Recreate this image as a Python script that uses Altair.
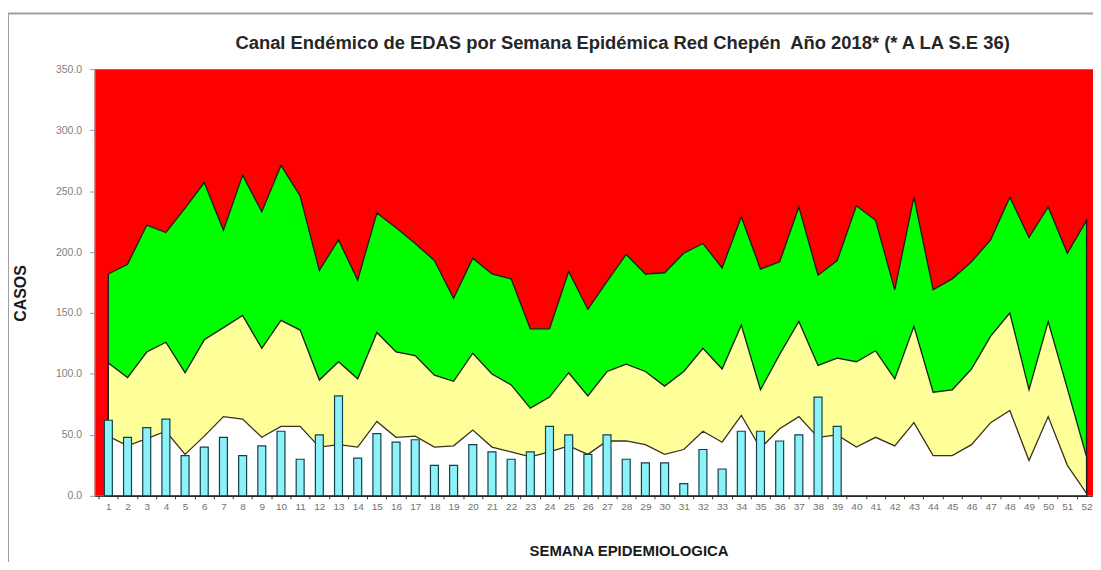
import altair as alt
import pandas as pd

# ---- data ----
weeks = list(range(1, 53))
# upper limit (epidemic / alarm boundary) - top of green band
upper = [182, 190, 222, 216, 236, 257, 218, 263, 233, 271,
         246, 185, 210, 177, 232, 220, 207, 193, 162, 195,
         182, 178, 137, 137, 184, 153, 176, 198, 182, 183,
         199, 207, 187, 229, 186, 192, 237, 181, 193, 238,
         226, 169, 245, 169, 178, 192, 210, 245, 212, 237,
         199, 226]
# median (alarm / security boundary) - top of yellow band
middle = [109, 97, 118, 126, 101, 128, 138, 148, 121, 144,
          136, 95, 110, 96, 134, 118, 115, 99, 94, 117,
          100, 91, 72, 81, 101, 82, 102, 108, 102, 90,
          102, 121, 104, 140, 87, 116, 143, 107, 113, 110,
          119, 96, 139, 85, 87, 104, 131, 150, 87, 143,
          88, 32]
# lower limit (security / success boundary) - top of white band
lower = [49, 41, 47, 53, 34, 49, 65, 63, 48, 57,
         57, 40, 42, 40, 61, 48, 49, 40, 41, 54,
         40, 36, 32, 36, 41, 34, 45, 45, 42, 34,
         38, 53, 44, 66, 39, 55, 65, 48, 50, 40,
         48, 41, 60, 33, 33, 42, 60, 70, 29, 65,
         25, 2]
# cases 2018, weeks 1..39
case_weeks = list(range(1, 40))
cases = [62, 48, 56, 63, 33, 40, 48, 33, 41, 53,
         30, 50, 82, 31, 51, 44, 46, 25, 25, 42,
         36, 30, 36, 57, 50, 34, 50, 30, 27, 27,
         10, 38, 22, 53, 53, 45, 50, 81, 57]
y_ticks = [0, 50, 100, 150, 200, 250, 300, 350]

title_text = "Canal Endémico de EDAS por Semana Epidémica Red Chepén\u00a0 Año 2018* (* A LA S.E 36)"

df = pd.DataFrame({"semana": weeks, "superior": upper, "mediana": middle, "inferior": lower})
dfc = pd.DataFrame({"semana": case_weeks, "casos": cases})
one = pd.DataFrame({"k": [0]})

W, H = 1004, 429
x_dom = [0.538, 52.077]
half_band = W / (x_dom[1] - x_dom[0]) / 2

x_scale = alt.Scale(domain=x_dom, nice=False, zero=False)
y_scale = alt.Scale(domain=[0, 350], nice=False)

FONT = "Liberation Sans"
LINE = "#1c1c1c"

x_axis = alt.Axis(
    values=weeks, tickCount=60, format="d", title="SEMANA EPIDEMIOLOGICA", grid=False,
    tickOffset=-half_band, labelOffset=half_band, tickSize=3, tickColor="#333",
    domainColor="#222", labelColor="#707070", labelFontSize=10, labelFont=FONT,
    labelPadding=3, labelOverlap=False, labelFlush=False, zindex=2,
    titleFont=FONT, titleFontSize=15, titleFontWeight="bold", titleColor="#1a1a1a",
    titleX=537, titleY=55, titleAlign="center", titleBaseline="middle",
)
y_axis = alt.Axis(
    values=y_ticks, tickCount=10, format=".1f", title="CASOS", grid=False,
    tickSize=5, tickColor="#999", domainColor="#999", zindex=2,
    labelColor="#808080", labelFontSize=10.5, labelFont=FONT, labelPadding=8,
    titleFont=FONT, titleFontSize=16, titleFontWeight="bold", titleColor="#1a1a1a",
    titleX=-74, titleY=225, titleAlign="center", titleBaseline="middle", titleAngle=-90,
)

green = alt.Chart(df).mark_area(fill="#00FF00", stroke=LINE, strokeWidth=1.3).encode(
    x=alt.X("semana:Q", scale=x_scale, axis=x_axis),
    y=alt.Y("superior:Q", scale=y_scale, axis=y_axis),
)
yellow = alt.Chart(df).mark_area(fill="#FFFF99", stroke=LINE, strokeWidth=1.3).encode(
    x=alt.X("semana:Q", scale=x_scale),
    y=alt.Y("mediana:Q", scale=y_scale),
)
white = alt.Chart(df).mark_area(fill="#FFFFFF", stroke="#3a3020", strokeWidth=1.3).encode(
    x=alt.X("semana:Q", scale=x_scale),
    y=alt.Y("inferior:Q", scale=y_scale),
)
bars = alt.Chart(dfc).mark_bar(size=8, fill="#8CF2F7", stroke="#12404F", strokeWidth=1.2).encode(
    x=alt.X("semana:Q", scale=x_scale),
    y=alt.Y("casos:Q", scale=y_scale),
)
title = alt.Chart(one).mark_text(
    text=title_text, font=FONT, fontSize=18.5, fontWeight="bold", color="#262626",
    align="center", baseline="alphabetic",
).encode(x=alt.value(531), y=alt.value(-20))

frame = alt.Chart(one).mark_rect(fillOpacity=0, stroke="#a0a0a0", strokeWidth=2).encode(
    x=alt.value(-87), x2=alt.value(W + 40), y=alt.value(-56), y2=alt.value(H + 100)
)

chart = alt.layer(green, yellow, white, bars, title, frame).properties(
    width=W, height=H,
    autosize=alt.AutoSizeParams(type="none"),
    padding={"left": 87, "top": 60, "right": 0, "bottom": 65},
    background="white",
).configure_view(fill="#FF0000", stroke=None)

chart.save("out.html", embed_options={"renderer": "svg", "actions": False})
